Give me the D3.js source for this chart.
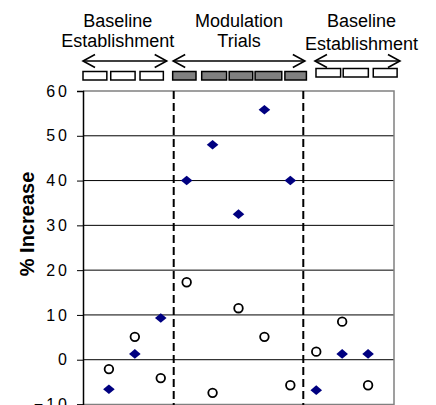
<!DOCTYPE html>
<html>
<head>
<meta charset="utf-8">
<script src="https://cdn.jsdelivr.net/npm/d3@7"></script>
<style>
html,body{margin:0;padding:0;background:#fff;overflow:hidden}
svg{display:block}
text{font-family:"Liberation Sans",Arial,sans-serif;fill:#000}
</style>
</head>
<body>
<div id="chart"></div>
<script>
// ---- data ----
const trials = [1,2,3,4,5,6,7,8,9,10,11];
const seriesDiamond = [-6.6, 1.3, 9.3, 40, 48, 32.5, 55.8, 40, -6.8, 1.3, 1.3];
const seriesCircle  = [-2.1, 5.1, -4.1, 17.3, -7.4, 11.5, 5.1, -5.7, 1.8, 8.5, -5.7];
const yTicks = [-10, 0, 10, 20, 30, 40, 50, 60];
const phaseBreaks = [3.5, 8.5];
const phases = [
  {lines:["Baseline","Establishment"], from:0, to:3.23, center:1.34, dy:0},
  {lines:["Modulation","Trials"], from:3.48, to:8.56, center:6.02, dy:0},
  {lines:["Baseline","Establishment"], from:8.95, to:12.23, center:10.75, dy:3}
];
const trialBoxes = [
  {from:0.0, to:0.92, active:false, row:0},
  {from:1.07, to:2.01, active:false, row:0},
  {from:2.2, to:3.1, active:false, row:0},
  {from:3.46, to:4.36, active:true, row:0},
  {from:4.58, to:5.54, active:true, row:0},
  {from:5.64, to:6.55, active:true, row:0},
  {from:6.64, to:7.67, active:true, row:0},
  {from:7.79, to:8.62, active:true, row:0},
  {from:8.99, to:9.94, active:false, row:1},
  {from:10.04, to:11.01, active:false, row:1},
  {from:11.2, to:12.12, active:false, row:1}
];

// ---- layout ----
const W = 436, H = 405;
const L = 83, R = 394, T = 91, B = 404.5;

const svg = d3.select("#chart").append("svg").attr("width", W).attr("height", H);

const x = d3.scaleLinear().domain([0, 12]).range([L, R]);
const y = d3.scaleLinear().domain([-10, 60]).range([B, T]);

// gridlines
svg.append("g").selectAll("line").data(yTicks.filter(d => d > -10 && d < 60)).join("line")
  .attr("x1", L).attr("x2", R).attr("y1", d => y(d)).attr("y2", d => y(d))
  .attr("stroke", "#000").attr("stroke-width", 1);

// plot border (gray)
svg.append("path")
  .attr("d", `M${L},${y(60)}H${R}V${y(-10)}H${L}`)
  .attr("fill", "none").attr("stroke", "#808080").attr("stroke-width", 1.5);

// y axis
const yAxis = d3.axisLeft(y).tickValues(yTicks).tickSize(6).tickPadding(8).tickFormat(d3.format("d"));
const ga = svg.append("g").attr("transform", `translate(${L},0)`).call(yAxis);
ga.select(".domain").attr("stroke", "#000").attr("stroke-width", 1.5);
ga.selectAll(".tick line").attr("stroke", "#000").attr("stroke-width", 1);
ga.selectAll(".tick text")
  .attr("font-size", 16).attr("letter-spacing", "3px")
  .attr("x", -13)
  .style("font-family", '"Liberation Sans",Arial,sans-serif').attr("fill", "#000");

// y label
svg.append("text")
  .attr("transform", `translate(34,${224}) rotate(-90)`)
  .attr("text-anchor", "middle").attr("font-size", 20).attr("font-weight", "bold")
  .text("% Increase");

// phase break dashed lines
svg.append("g").selectAll("line").data(phaseBreaks).join("line")
  .attr("x1", d => x(d)).attr("x2", d => x(d)).attr("y1", y(60)).attr("y2", H)
  .attr("stroke", "#000").attr("stroke-width", 2).attr("stroke-dasharray", "8,4");

// circles series
svg.append("g").selectAll("circle").data(trials).join("circle")
  .attr("cx", (d) => x(d)).attr("cy", (d, i) => y(seriesCircle[i]))
  .attr("r", 4.3).attr("fill", "#fff").attr("stroke", "#000").attr("stroke-width", 1.8);

// diamonds series
const diamond = "M0,-4.8L5.8,0L0,4.8L-5.8,0Z";
svg.append("g").selectAll("path").data(trials).join("path")
  .attr("d", diamond)
  .attr("transform", (d, i) => `translate(${x(d)},${y(seriesDiamond[i])})`)
  .attr("fill", "#000080");

// top annotation: boxes
const boxTop = [71.5, 68.5];
svg.append("g").selectAll("rect").data(trialBoxes).join("rect")
  .attr("x", d => x(d.from)).attr("width", d => x(d.to) - x(d.from))
  .attr("y", d => boxTop[d.row]).attr("height", 8.5)
  .attr("fill", d => d.active ? "#808080" : "#fff")
  .attr("stroke", "#000").attr("stroke-width", 1.5);

// arrows
const arrowY = 61;
const ag = svg.append("g").attr("fill", "none").attr("stroke", "#000").attr("stroke-width", 1.6);
phases.forEach(p => {
  const x1 = x(p.from), x2 = x(p.to);
  ag.append("line").attr("x1", x1).attr("x2", x2).attr("y1", arrowY).attr("y2", arrowY);
  ag.append("path").attr("d", `M${x1 + 12},${arrowY - 6.5}L${x1},${arrowY}L${x1 + 12},${arrowY + 6.5}`);
  ag.append("path").attr("d", `M${x2 - 12},${arrowY - 6.5}L${x2},${arrowY}L${x2 - 12},${arrowY + 6.5}`);
});

// phase labels
phases.forEach(p => {
  const t = svg.append("text").attr("text-anchor", "middle").attr("font-size", 18);
  t.append("tspan").attr("x", x(p.center)).attr("y", 26.5).text(p.lines[0]);
  t.append("tspan").attr("x", x(p.center)).attr("y", 46.5 + p.dy).text(p.lines[1]);
});
</script>
</body>
</html>
